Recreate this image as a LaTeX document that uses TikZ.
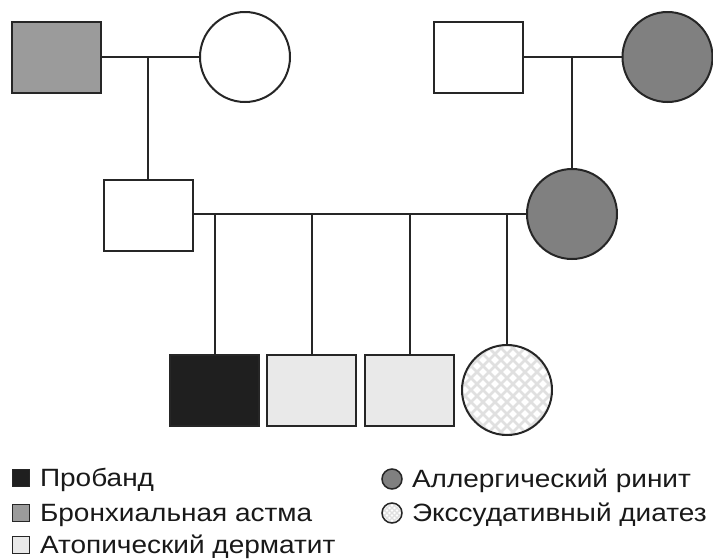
\documentclass[tikz,border=0pt]{standalone}
\usepackage{fontspec}
\setmainfont{Liberation Sans}[FakeStretch=1.12]
\definecolor{astma}{HTML}{9B9B9B}
\definecolor{rhin}{HTML}{808080}
\definecolor{prob}{HTML}{1F1F1F}
\definecolor{derm}{HTML}{E9E9E9}
\definecolor{ink}{HTML}{262626}
\definecolor{hatch}{HTML}{E0E0E0}
\begin{document}
\begin{tikzpicture}[x=1pt,y=-1pt,
  every node/.style={inner sep=0pt, outer sep=0pt},
  male/.style={rectangle, draw=ink, line width=2pt, minimum width=89pt, minimum height=71pt},
  female/.style={circle, draw=ink, line width=2pt, minimum size=90pt},
  link/.style={draw=ink, line width=2pt},
  crosshatch/.style={path picture={
      \foreach \i in {-132,-120,...,132}{
        \draw[hatch, line width=2.6pt] ([xshift=\i pt]path picture bounding box.center) ++(-70pt,-70pt) -- ++(140pt,140pt);
        \draw[hatch, line width=2.6pt] ([xshift=\i pt]path picture bounding box.center) ++(-70pt,70pt) -- ++(140pt,-140pt);
      }}},
  smallhatch/.style={path picture={
      \foreach \i in {-25,-20,...,25}{
        \draw[hatch, line width=1.1pt] ([xshift=\i pt]path picture bounding box.center) ++(-20pt,-20pt) -- ++(40pt,40pt);
        \draw[hatch, line width=1.1pt] ([xshift=\i pt]path picture bounding box.center) ++(-20pt,20pt) -- ++(40pt,-40pt);
      }}},
  legsq/.style={rectangle, draw=ink, line width=1.5pt, minimum size=17pt},
  legci/.style={circle, draw=ink, line width=1.5pt, minimum size=20pt},
  legtext/.style={anchor=base west, font=\fontsize{25}{30}\selectfont, text=black!90}
]
\useasboundingbox (0,0) rectangle (713,558);

% generation I
\node[male, fill=astma] (gf) at (56.5,57.5) {};
\node[female, fill=white] (gm) at (245,57) {};
\node[male, fill=white] (mgf) at (478.5,57.5) {};
\node[female, fill=rhin] (mgm) at (667.5,57) {};

% generation II
\node[male, fill=white] (father) at (148,215) {};
\node[female, fill=rhin] (mother) at (572,214) {};

% generation III
\node[male, fill=prob] (c1) at (214.5,390.5) {};
\node[male, fill=derm] (c2) at (311.5,390.5) {};
\node[male, fill=derm] (c3) at (409.5,390.5) {};
\node[female, fill=white, crosshatch] (c4) at (507,390) {};

% marriages and descent
\draw[link] (gf.east |- gm.west) -- (gm.west);
\coordinate (m1) at (148,57);
\draw[link] (m1) -- (father.north);
\draw[link] (mgf.east |- mgm.west) -- (mgm.west);
\coordinate (m2) at (572,57);
\draw[link] (m2) -- (mother.north);
\draw[link] (father.east |- mother.west) -- (mother.west);
\foreach \c in {c1,c2,c3,c4}{
  \draw[link] (\c.north |- mother.west) -- (\c.north);
}

% legend
\node[legsq, fill=prob] (l1) at (21,478) {};
\node[legtext] (t1) at (40,486) {Пробанд};
\node[legsq, fill=astma] (l2) at (21,513) {};
\node[legtext] (t2) at (40,521) {Бронхиальная астма};
\node[legsq, fill=derm] (l3) at (21,545) {};
\node[legtext] (t3) at (40,553) {Атопический дерматит};
\node[legci, fill=rhin] (l4) at (392,479) {};
\node[legtext] (t4) at (412,487) {Аллергический ринит};
\node[legci, fill=white, smallhatch] (l5) at (392,513) {};
\node[legtext] (t5) at (412,521) {Экссудативный диатез};
\end{tikzpicture}
\end{document}
